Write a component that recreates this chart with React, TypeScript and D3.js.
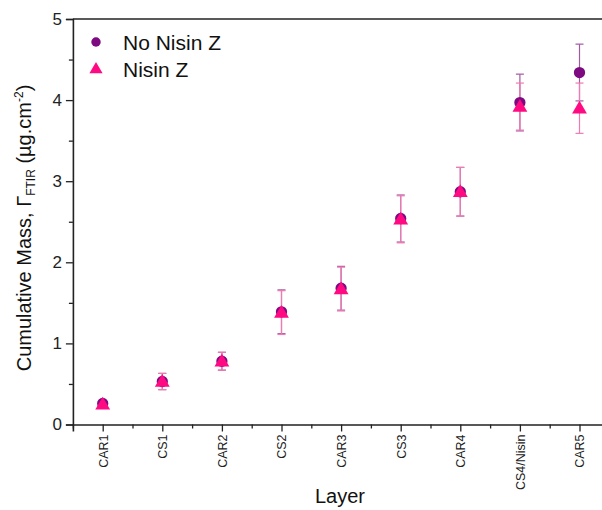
import React, { useEffect, useRef } from "react";
import * as d3 from "d3";

// Cumulative mass per layer, with and without Nisin Z

const layers = ["CAR1", "CS1", "CAR2", "CS2", "CAR3", "CS3", "CAR4", "CS4/Nisin", "CAR5"];
const noNisinMean = [0.26, 0.53, 0.78, 1.39, 1.68, 2.54, 2.87, 3.97, 4.34];
const noNisinErr = [0.03, 0.1, 0.11, 0.27, 0.27, 0.29, 0.3, 0.35, 0.35];
const nisinMean = [0.25, 0.53, 0.78, 1.38, 1.67, 2.53, 2.87, 3.92, 3.9];
const nisinErr = [0.03, 0.1, 0.11, 0.27, 0.27, 0.29, 0.3, 0.29, 0.31];
const yTicks = [0, 1, 2, 3, 4, 5];

const PURPLE = "#7d0a80";
const PINK = "#ff0a83";
const PURPLE_BAR = "#a05aa3";
const PINK_BAR = "#f07ab2";
const FONT = "Liberation Sans, Arial, sans-serif";

const App = () => {
  const svgRef = useRef<SVGSVGElement>(null);

  useEffect(() => {
    const width = 602;
    const svg = d3.select(svgRef.current);
    svg.selectAll("*").remove();

    const x = d3.scaleLinear().domain([0.5, 9.5]).range([72.9, 609.3]);
    const y = d3.scaleLinear().domain([0, 5]).range([424.5, 19]);

    const series = [
      { name: "No Nisin Z", mean: noNisinMean, err: noNisinErr, color: PURPLE, bar: PURPLE_BAR, shape: "circle" },
      { name: "Nisin Z", mean: nisinMean, err: nisinErr, color: PINK, bar: PINK_BAR, shape: "triangle" },
    ];

    // error bars
    series.forEach(s => {
      const g = svg.append("g");
      const rows = layers.map((l, i) => ({ i: i + 1, m: s.mean[i], e: s.err[i] }));
      g.selectAll("line.v").data(rows).join("line")
        .attr("x1", d => x(d.i)).attr("x2", d => x(d.i))
        .attr("y1", d => y(d.m + d.e)).attr("y2", d => y(d.m - d.e))
        .attr("stroke", s.bar).attr("stroke-width", 1.2);
      [1, -1].forEach(sign => {
        g.selectAll(null).data(rows).join("line")
          .attr("x1", d => x(d.i) - 4).attr("x2", d => x(d.i) + 4)
          .attr("y1", d => y(d.m + sign * d.e)).attr("y2", d => y(d.m + sign * d.e))
          .attr("stroke", s.bar).attr("stroke-width", 1.2);
      });
    });

    // markers
    const circle = d3.symbol(d3.symbolCircle, 100);
    const tri = d3.symbol(d3.symbolTriangle, 95);
    series.forEach(s => {
      svg.append("g").selectAll("path").data(s.mean).join("path")
        .attr("d", s.shape === "circle" ? circle() : tri())
        .attr("transform", (d, i) => `translate(${x(i + 1)},${y(d) + (s.shape === "circle" ? 0 : 1)})`)
        .attr("fill", s.color);
    });

    // axes
    const xAxis = svg.append("g").attr("transform", `translate(0,${y(0)})`)
      .call(d3.axisBottom(x).tickValues(d3.range(1, 10)).tickSize(7).tickFormat((d: any) => layers[d - 1]));
    xAxis.selectAll(".tick text")
      .attr("transform", "rotate(-90)")
      .attr("text-anchor", "end")
      .attr("x", -10).attr("y", 0).attr("dy", "0.35em")
      .attr("font-size", 12.5).attr("font-family", FONT).attr("fill", "#222");
    svg.append("g").attr("transform", `translate(0,${y(0)})`)
      .call(d3.axisBottom(x).tickValues(d3.range(0.5, 10, 1)).tickSize(4).tickFormat(() => ""))
      .call(g => g.select(".domain").remove());

    svg.append("g").attr("transform", `translate(${x(0.5)},0)`)
      .call(d3.axisLeft(y).tickValues(yTicks).tickSize(7).tickPadding(4).tickFormat(d3.format("d")))
      .call(g => g.selectAll(".tick text").attr("font-size", 17).attr("font-family", FONT).attr("fill", "#222"));
    svg.append("g").attr("transform", `translate(${x(0.5)},0)`)
      .call(d3.axisLeft(y).tickValues(d3.range(0.5, 5, 1)).tickSize(4).tickFormat(() => ""))
      .call(g => g.select(".domain").remove());

    svg.selectAll(".domain").attr("stroke", "#222").attr("stroke-width", 1.6);
    svg.selectAll(".tick line").attr("stroke", "#222").attr("stroke-width", 1.3);

    svg.append("line")
      .attr("x1", x(0.5)).attr("x2", width).attr("y1", y(5)).attr("y2", y(5))
      .attr("stroke", "#222").attr("stroke-width", 1.6);

    // titles
    svg.append("text")
      .attr("x", 340).attr("y", 503)
      .attr("text-anchor", "middle")
      .attr("font-size", 20).attr("font-family", FONT).attr("fill", "#111")
      .text("Layer");

    const yt = svg.append("text")
      .attr("transform", "translate(31,228) rotate(-90)")
      .attr("text-anchor", "middle")
      .attr("font-size", 20).attr("font-family", FONT).attr("fill", "#111");
    yt.append("tspan").text("Cumulative Mass, Γ");
    yt.append("tspan").attr("font-size", 12).attr("dy", 4).text("FTIR");
    yt.append("tspan").attr("dy", -4).text(" (µg.cm");
    yt.append("tspan").attr("font-size", 12).attr("dy", -8).text("-2");
    yt.append("tspan").attr("dy", 8).text(")");

    // legend
    const legend = svg.append("g").attr("font-family", FONT);
    series.forEach((s, i) => {
      const ly = 42 + i * 27.5;
      legend.append("path")
        .attr("d", s.shape === "circle" ? d3.symbol(d3.symbolCircle, 70)() : d3.symbol(d3.symbolTriangle, 75)())
        .attr("transform", `translate(96,${ly})`)
        .attr("fill", s.color);
      legend.append("text")
        .attr("x", 123).attr("y", ly).attr("dy", "0.36em")
        .attr("font-size", 21).attr("fill", "#111")
        .text(s.name);
    });
  }, []);

  return (
    <div style={{ position: "absolute", left: 0, top: 0 }}>
      <svg ref={svgRef} width={602} height={510} style={{ display: "block", background: "#fff" }}></svg>
    </div>
  );
};

export default App;
